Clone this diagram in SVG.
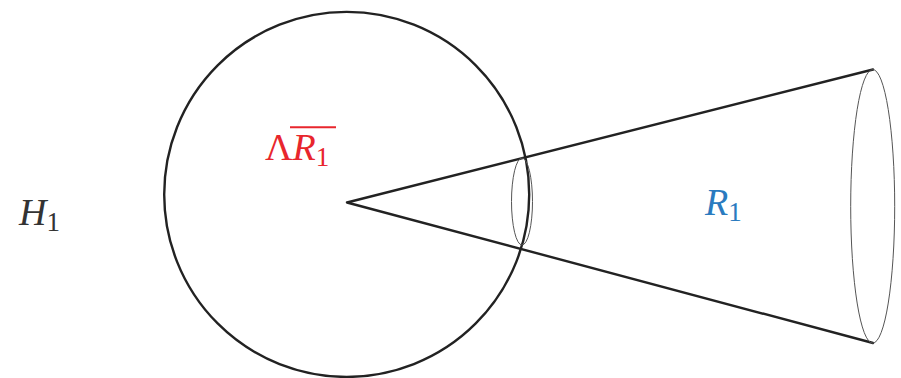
<svg xmlns="http://www.w3.org/2000/svg" width="901" height="378" viewBox="0 0 901 378">
  <style>
    .thick { fill: none; stroke: #222; stroke-width: 2.4; stroke-linejoin: round; stroke-linecap: round; }
    .thin { fill: none; stroke: #555; stroke-width: 1; }
    .lbl { font-family: "Liberation Serif", "DejaVu Serif", serif; font-size: 38px; }
    .it { font-style: italic; }
    .sub { font-size: 27px; font-style: normal; }
  </style>
  <rect width="901" height="378" fill="#fff"/>
  <g id="sphere">
    <circle class="thick" cx="346.7" cy="194.4" r="182.5"/>
  </g>
  <g id="cone">
    <polyline class="thick" points="873,69.5 347,202.5 873,343"/>
    <ellipse class="thin" cx="522" cy="201.5" rx="10.5" ry="43.5"/>
    <ellipse class="thin" cx="872.7" cy="206.3" rx="22" ry="136.8"/>
  </g>
  <g id="label-H1">
    <text class="lbl it" x="19" y="225" fill="#333">H<tspan class="sub" dy="6">1</tspan></text>
  </g>
  <g id="label-LambdaR1bar">
    <text class="lbl" x="265" y="160" fill="#e8262d">Λ<tspan class="it">R</tspan><tspan class="sub" dy="6">1</tspan></text>
    <line x1="290" y1="127.3" x2="336" y2="127.3" stroke="#e8262d" stroke-width="2"/>
  </g>
  <g id="label-R1">
    <text class="lbl it" x="705" y="215" fill="#2a7bbf">R<tspan class="sub" dy="6">1</tspan></text>
  </g>
</svg>
